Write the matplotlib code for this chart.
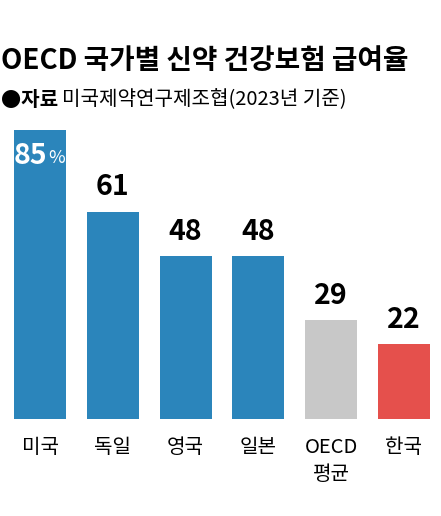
import matplotlib
matplotlib.use("Agg")
import matplotlib.pyplot as plt

plt.rcParams["font.family"] = ["Noto Sans CJK KR", "DejaVu Sans"]

categories = ["미국", "독일", "영국", "일본", "OECD\n평균", "한국"]
values = [85, 61, 48, 48, 29, 22]
colors = ["#2b85bb", "#2b85bb", "#2b85bb", "#2b85bb", "#c8c8c8", "#e5504c"]

title = "OECD 국가별 신약 건강보험 급여율"
source_head = "●자료"
source_body = "미국제약연구제조협(2023년 기준)"

W, H = 441, 516
fig = plt.figure(figsize=(W / 100, H / 100), dpi=100)

bottom_px, top_px = 419, 130
ax = fig.add_axes([0, 1 - bottom_px / H, 1, (bottom_px - top_px) / H])
step = 72.8
bar_w = 52 / step
x = list(range(len(values)))
ax.bar(x, values, width=bar_w, color=colors)
ax.set_xlim(-40 / step, (W - 40) / step)
ax.set_ylim(0, 85)
ax.axis("off")

fig.canvas.draw()
renderer = fig.canvas.get_renderer()

for xi, v in zip(x, values):
    if xi == 0:
        t85 = ax.text(xi - bar_w / 2, v - 7.5, f"{v}", color="white", fontsize=20.5,
                      fontweight="bold", ha="left", va="center", clip_on=False)
        bb = t85.get_window_extent(renderer)
        fig.text((bb.x1 + 1) / W, bb.y0 / H + 0.004, "%", color="white",
                 fontsize=13, ha="left", va="bottom")
    else:
        ax.text(xi, v + 3, f"{v}", color="black", fontsize=20.5, fontweight="bold",
                ha="center", va="bottom", clip_on=False)

for xi, c in zip(x, categories):
    ax.annotate(c, xy=(xi, 0), xytext=(0, -13), textcoords="offset points",
                ha="center", va="top", fontsize=14.5, linespacing=1.4,
                annotation_clip=False)

fig.text(1 / W, 1 - 61 / H, title, fontsize=20, fontweight="bold",
         ha="left", va="center")
t = fig.text(1 / W, 1 - 100 / H, source_head, fontsize=14.5, fontweight="bold",
             ha="left", va="center")
fig.canvas.draw()
bb = t.get_window_extent()
fig.text((bb.x1 + 4) / W, 1 - 100 / H, source_body, fontsize=14.5,
         ha="left", va="center")

fig.savefig("out.png", dpi=100)
